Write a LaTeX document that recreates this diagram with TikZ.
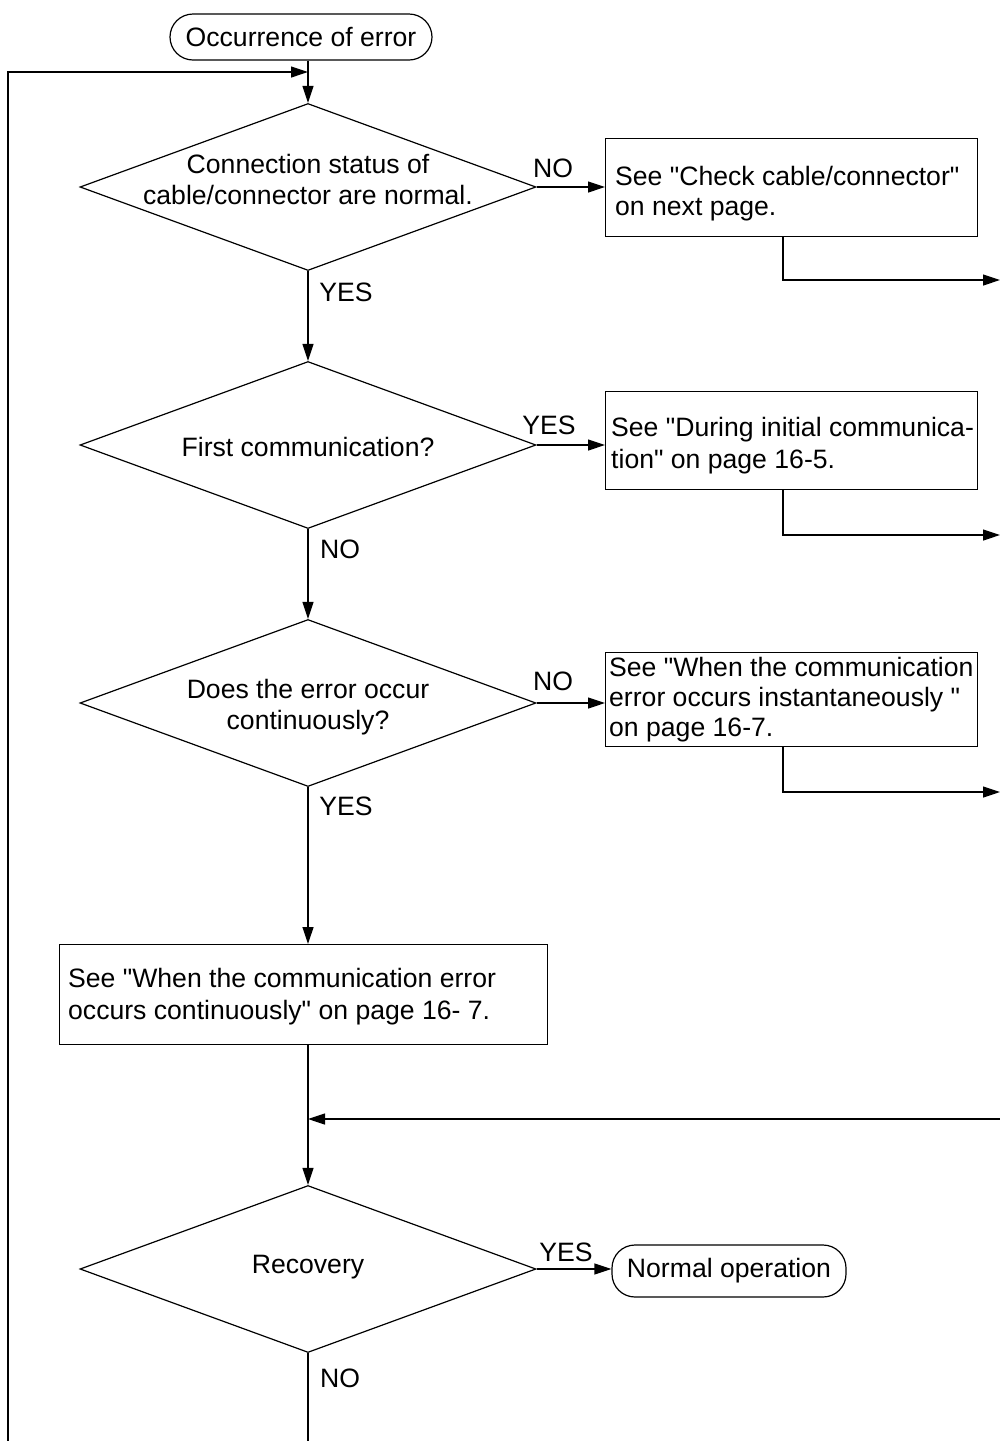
\documentclass[tikz,border=0pt]{standalone}
\usepackage{fontspec}
\setmainfont{Liberation Sans}[Ligatures=TeXOff]
\usetikzlibrary{shapes.geometric,arrows.meta}
\begin{document}
\begin{tikzpicture}[x=1pt,y=-1pt,
  every node/.style={font=\fontsize{26.6}{31}\selectfont},
  line/.style={line width=1.2pt,draw=black},
  arr/.style={line, -{Triangle[length=17pt,width=11pt]}},
  term/.style={draw,line width=1.2pt,rounded corners=23pt,inner sep=0pt},
  dia/.style={draw,line width=1.2pt,diamond,aspect=2.73,minimum width=456pt,minimum height=167pt,inner sep=0pt},
  dtext/.style={align=center,inner sep=0pt},
  box/.style={draw,line width=1.2pt,rectangle,inner sep=0pt,anchor=north west},
  btext/.style={align=left,inner sep=0pt,anchor=west},
  lbl/.style={inner sep=0pt}
]
\useasboundingbox (0,0) rectangle (1000,1441);

% terminals
\node[term,minimum width=262pt,minimum height=46pt] (start) at (301,37) {Occurrence of error};
\node[term,minimum width=234pt,minimum height=52pt] (normal) at (729,1271) {Normal operation};

% diamonds
\node[dia] (d1) at (308,187) {};
\node[dtext] (t1) at (308,179) {Connection status of\\cable/connector are normal.};
\node[dia] (d2) at (308,445) {};
\node[dtext] (t2) at (308,447) {First communication?};
\node[dia] (d3) at (308,703) {};
\node[dtext] (t3) at (308,707) {Does the error occur\\continuously?};
\node[dia] (d5) at (308,1269) {};
\node[dtext] (t5) at (308,1267) {Recovery};

% boxes
\node[box,minimum width=372pt,minimum height=98pt] (b1) at (605,138) {};
\node[btext,font=\fontsize{26.6}{30}\selectfont] (bt1) at (615,194) {See "Check cable/connector"\\on next page.};
\node[box,minimum width=372pt,minimum height=98pt] (b2) at (605,391) {};
\node[btext,font=\fontsize{26.6}{32}\selectfont] (bt2) at (611,446) {See "During initial communica-\\tion" on page 16-5.};
\node[box,minimum width=372pt,minimum height=94pt] (b3) at (605,652) {};
\node[btext,font=\fontsize{26.6}{30}\selectfont] (bt3) at (609,700) {See "When the communication\\error occurs instantaneously "\\on page 16-7.};
\node[box,minimum width=488pt,minimum height=100pt] (b4) at (59,944) {};
\node[btext,font=\fontsize{26.6}{32}\selectfont] (bt4) at (68,997) {See "When the communication error\\occurs continuously" on page 16- 7.};

% coordinates
\coordinate (j0) at (308,72);
\coordinate (lt) at (8,72);
\coordinate (lb) at (8,1441);
\coordinate (mb) at (308,1441);
\coordinate (e1) at (1000,280);
\coordinate (e2) at (1000,535);
\coordinate (e3) at (1000,792);
\coordinate (r1) at (1000,1119);

% main flow
\draw[arr] (start.south -| d1.north) -- (d1.north);
\draw[arr] (lb) -- (lt) -- (j0);
\draw[arr] (d1.south) -- (d2.north);
\draw[arr] (d2.south) -- (d3.north);
\draw[arr] (d3.south) -- (d3.south |- b4.north);
\draw[arr] (b4.south -| d5.north) -- (d5.north);
\draw[line] (d5.south) -- (mb);
\draw[arr] (r1) -- (r1 -| d5.north);

% side branches
\draw[arr] (d1.east) -- (d1.east -| b1.west);
\draw[arr] (d2.east) -- (d2.east -| b2.west);
\draw[arr] (d3.east) -- (d3.east -| b3.west);
\draw[arr] (d5.east) -- (d5.east -| normal.west);

\draw[arr] ([xshift=178pt]b1.south west) |- (e1);
\draw[arr] ([xshift=178pt]b2.south west) |- (e2);
\draw[arr] ([xshift=178pt]b3.south west) |- (e3);

% labels
\node[lbl] (l1) at (553,168) {NO};
\node[lbl] (l2) at (346,292) {YES};
\node[lbl] (l3) at (549,425) {YES};
\node[lbl] (l4) at (340,549) {NO};
\node[lbl] (l5) at (553,681) {NO};
\node[lbl] (l6) at (346,806) {YES};
\node[lbl] (l7) at (566,1252) {YES};
\node[lbl] (l8) at (340,1378) {NO};
\end{tikzpicture}
\end{document}
